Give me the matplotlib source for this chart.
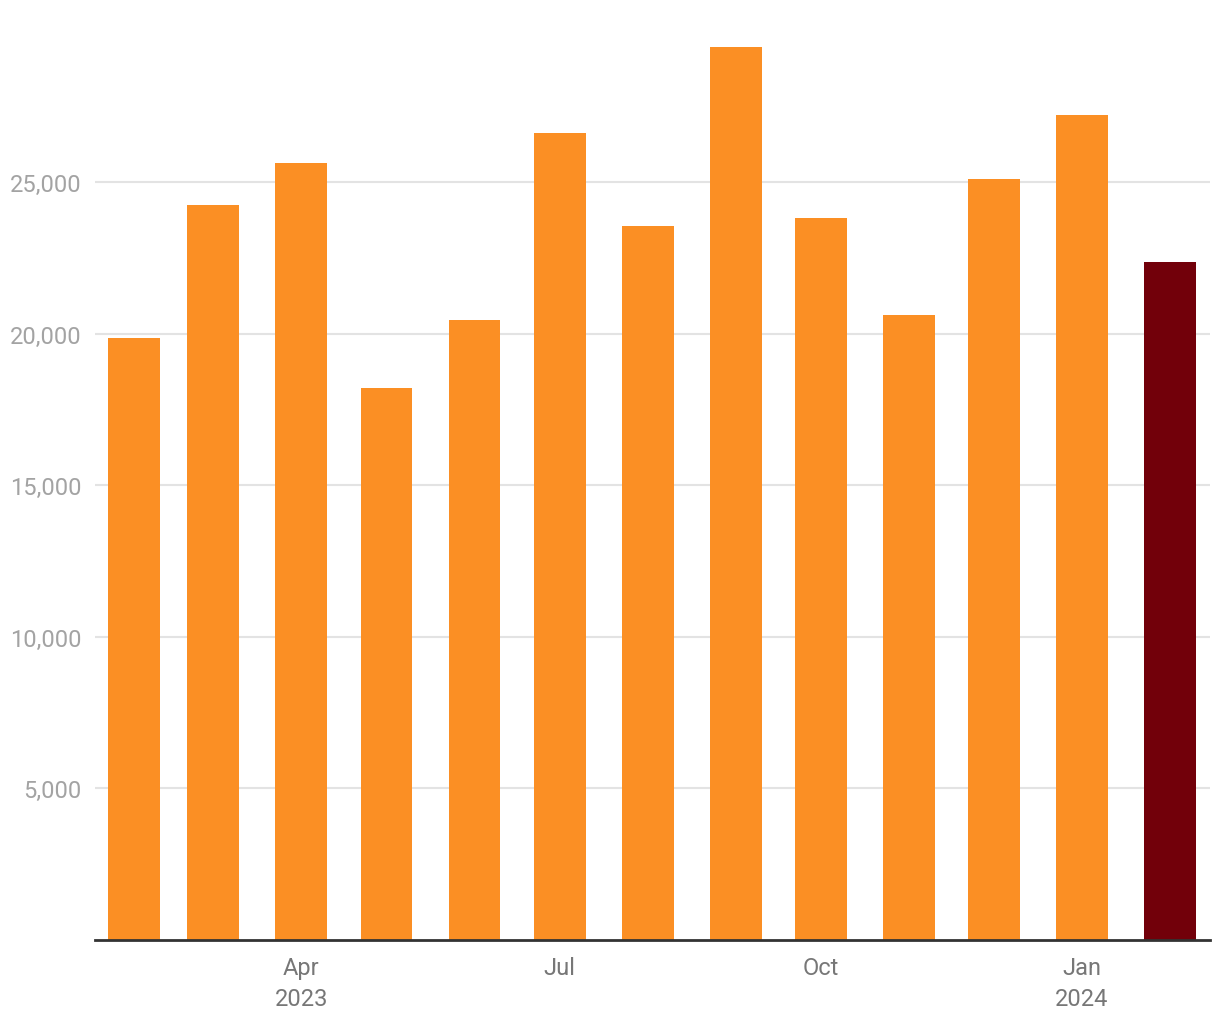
import datetime as dt

import matplotlib

matplotlib.use("Agg")
import matplotlib.dates as mdates
import matplotlib.pyplot as plt
from matplotlib.ticker import FuncFormatter

months = [
    "2023-02", "2023-03", "2023-04", "2023-05", "2023-06", "2023-07", "2023-08",
    "2023-09", "2023-10", "2023-11", "2023-12", "2024-01", "2024-02",
]
values = [19850, 24240, 25630, 18200, 20440, 26620, 23550,
          29460, 23810, 20610, 25100, 27210, 22360]
tick_months = ["2023-04", "2023-07", "2023-10", "2024-01"]
tick_labels = ["Apr\n2023", "Jul", "Oct", "Jan\n2024"]

ORANGE = "#fb8f24"
DARK = "#72000a"

plt.rcParams["font.family"] = ["Roboto", "DejaVu Sans"]


def to_num(m: str) -> float:
    y, mo = m.split("-")
    return mdates.date2num(dt.datetime(int(y), int(mo), 1))


x = [to_num(m) for m in months]
colors = [ORANGE] * (len(values) - 1) + [DARK]

fig = plt.figure(figsize=(12.2, 10.2), dpi=100)
ax = fig.add_axes([95 / 1220, 79.5 / 1020, (1210 - 95) / 1220, (940 - 1) / 1020])

ax.bar(x, values, width=18.3, color=colors, zorder=2)

ax.set_xlim(x[0] - 13.7, x[-1] + 14.1)
ax.set_ylim(0, 31000)

ax.set_yticks([5000, 10000, 15000, 20000, 25000])
ax.yaxis.set_major_formatter(FuncFormatter(lambda v, _: f"{int(v):,}"))
ax.set_xticks([to_num(m) for m in tick_months])
ax.set_xticklabels(tick_labels)

ax.grid(axis="y", color="#e3e3e3", linewidth=1.5, zorder=0)
for side in ("top", "right", "left"):
    ax.spines[side].set_visible(False)
ax.spines["bottom"].set_color("#333333")
ax.spines["bottom"].set_linewidth(2)
ax.spines["bottom"].set_zorder(3)

ax.tick_params(axis="y", length=0, pad=9.5, labelsize=17, labelcolor="#a3a3a3")
ax.tick_params(axis="x", length=0, pad=12, labelsize=17, labelcolor="#777777")
for lbl in ax.get_xticklabels():
    lbl.set_linespacing(1.45)

fig.savefig("out.png", dpi=100)
